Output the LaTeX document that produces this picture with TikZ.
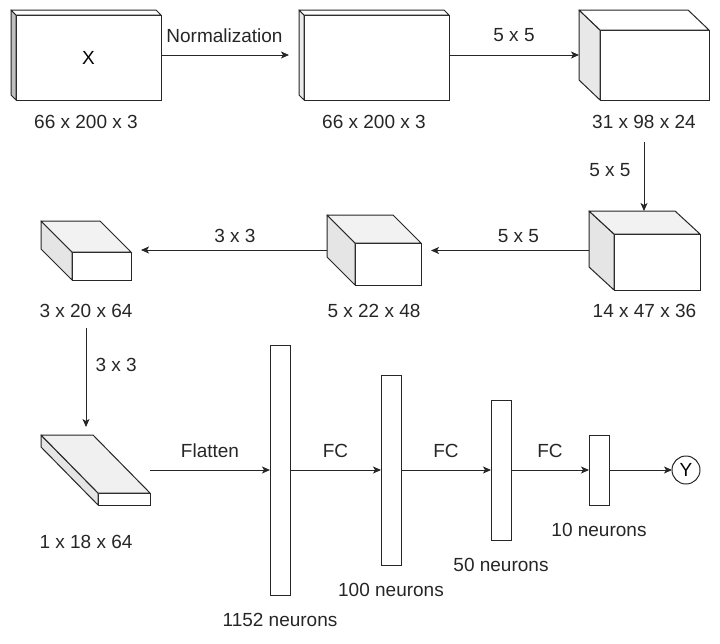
\documentclass[tikz,border=0pt]{standalone}
\usepackage{fontspec}
\setmainfont{Liberation Sans}
\usetikzlibrary{positioning, arrows.meta, calc}

% side and top faces behind a front-face node: node, dx, dy, side fill, top fill
\newcommand\cubesides[5]{%
  \coordinate (#1-bnw) at ($(#1.north west)+(-#2,-#3)$);
  \coordinate (#1-bne) at ($(#1.north east)+(-#2,-#3)$);
  \coordinate (#1-bsw) at ($(#1.south west)+(-#2,-#3)$);
  \coordinate (#1-mid) at ($(#1-bnw)!0.5!(#1.south east)$);
  \filldraw[edgeline, fill=#4] (#1.north west) -- (#1-bnw) -- (#1-bsw) -- (#1.south west) -- cycle;
  \filldraw[edgeline, fill=#5] (#1.north west) -- (#1-bnw) -- (#1-bne) -- (#1.north east) -- cycle;
}

\begin{document}
\begin{tikzpicture}[
    x=1pt, y=-1pt,
    font=\fontsize{19}{23}\selectfont,
    face/.style={draw=black!85, fill=white, line width=1pt, inner sep=0pt, outer sep=0pt},
    edgeline/.style={draw=black!85, line width=1pt, line join=round},
    bar/.style={face, minimum width=20pt},
    lbl/.style={inner sep=0pt, text=black!85},
    arrow/.style={-{Stealth[length=8pt, width=7pt, inset=2pt]}, line width=1pt, black!85}
]
  \useasboundingbox (0,0) rectangle (720,643);

  % top row: input, normalized input, first conv
  \node[face, minimum width=145pt, minimum height=85pt] (c1) at (88.5,57.5) {X};
  \cubesides{c1}{5}{5}{black!25}{white}
  \node[face, minimum width=145pt, minimum height=85pt] (c2) at (376.5,57.5) {};
  \cubesides{c2}{5}{5}{black!8}{white}
  \node[face, minimum width=109pt, minimum height=70pt] (c3) at (654.5,65) {};
  \cubesides{c3}{21}{20}{black!9}{white}

  % middle row: conv 2 to 4
  \node[face, minimum width=86pt, minimum height=56pt] (c4) at (657,262) {};
  \cubesides{c4}{25}{23}{black!10}{black!5}
  \node[face, minimum width=66pt, minimum height=42pt] (c5) at (388,264) {};
  \cubesides{c5}{28}{28}{black!10}{black!5}
  \node[face, minimum width=59pt, minimum height=28pt] (c6) at (101.5,266) {};
  \cubesides{c6}{31}{31}{black!10}{black!5}

  % bottom row: last conv, dense layers
  \node[face, minimum width=52pt, minimum height=12pt] (c7) at (124,499) {};
  \cubesides{c7}{57}{58}{black!10}{black!6}

  \node[bar, minimum height=250pt] (b1) at (280,470) {};
  \node[bar, minimum height=190pt, right=91pt of b1] (b2) {};
  \node[bar, minimum height=140pt, right=90pt of b2] (b3) {};
  \node[bar, minimum height=70pt, right=78pt of b3] (b4) {};
  \node[face, circle, minimum size=28pt, right=63pt of b4] (out) {Y};

  % sizes
  \node[lbl, anchor=north] (l1) at ($(c1.south -| c1-mid)+(0,15)$) {66 x 200 x 3};
  \node[lbl] (l2) at (c2-mid |- l1) {66 x 200 x 3};
  \node[lbl] (l3) at (c3-mid |- l1) {31 x 98 x 24};
  \node[lbl, anchor=north] (l4) at ($(c4.south -| c4-mid)+(0,14)$) {14 x 47 x 36};
  \node[lbl] (l5) at (c5-mid |- l4) {5 x 22 x 48};
  \node[lbl] (l6) at (c6-mid |- l4) {3 x 20 x 64};
  \node[lbl, anchor=north] (l7) at ($(c7.south -| l6)+(0,30)$) {1 x 18 x 64};

  \node[lbl, below=18pt of b1] (n1) {1152 neurons};
  \node[lbl, below=18pt of b2] (n2) {100 neurons};
  \node[lbl, below=18pt of b3] (n3) {50 neurons};
  \node[lbl, below=18pt of b4] (n4) {10 neurons};

  % connections
  \draw[arrow, shorten >=10pt] (c1.east |- c1-mid) -- node[lbl, above=12pt, pos=0.46] {Normalization} (c2-bnw |- c1-mid);
  \draw[arrow] (c2.east |- c2-mid) -- node[lbl, above=13pt] {5 x 5} (c3-bnw |- c2-mid);
  \draw[arrow, shorten <=13pt] (l3.south) -- node[lbl, left=13pt] {5 x 5} (l3.south |- c4-bnw);
  \draw[arrow, shorten >=10pt] (c4-bnw |- c4-mid) -- node[lbl, above=7pt, pos=0.42] {5 x 5} (c5.east |- c4-mid);
  \draw[arrow, shorten >=10pt] (c5-bnw |- c5-mid) -- node[lbl, above=7pt, pos=0.47] {3 x 3} (c6.east |- c5-mid);
  \draw[arrow, shorten <=10pt, shorten >=8pt] (l6.south) -- node[lbl, right=9pt, pos=0.4] {3 x 3} (l6.south |- c7-bnw);
  \draw[arrow] (c7.east |- c7-mid) -- node[lbl, above=12pt] {Flatten} (b1.west);
  \draw[arrow] (b1.east) -- node[lbl, above=12pt] {FC} (b2.west);
  \draw[arrow] (b2.east) -- node[lbl, above=12pt] {FC} (b3.west);
  \draw[arrow] (b3.east) -- node[lbl, above=12pt] {FC} (b4.west);
  \draw[arrow] (b4.east) -- (out.west);
\end{tikzpicture}
\end{document}
